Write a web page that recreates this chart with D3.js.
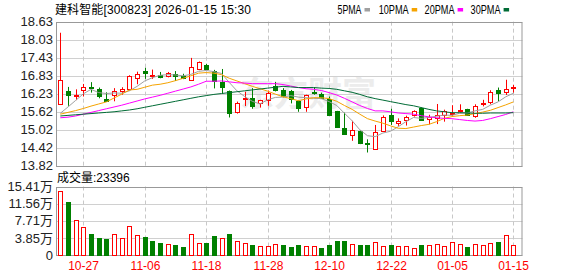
<!DOCTYPE html>
<html>
<head>
<meta charset="utf-8">
<script src="https://cdn.jsdelivr.net/npm/d3@7"></script>
<style>
  body { margin: 0; background: #fff; }
  svg { display: block; font-family: "Liberation Sans", Arial, "Noto Sans CJK SC", sans-serif; }
</style>
</head>
<body>
<svg width="578" height="276"></svg>
<script>
// daily K line data, 10-22 .. 01-15
var dates = ["10-22","10-23","10-24","10-27","10-28","10-29","10-30","10-31","11-03","11-04",
  "11-05","11-06","11-07","11-10","11-11","11-12","11-13","11-14","11-17","11-18",
  "11-19","11-20","11-21","11-24","11-25","11-26","11-27","11-28","12-01","12-02",
  "12-03","12-04","12-05","12-08","12-09","12-10","12-11","12-12","12-15","12-16",
  "12-17","12-18","12-19","12-22","12-23","12-24","12-25","12-26","12-29","12-30",
  "12-31","01-05","01-06","01-07","01-08","01-09","01-12","01-13","01-14","01-15"];

var open = [15.87,16.31,16.16,16.34,16.45,16.38,16.04,16.16,16.31,16.37,
  16.72,16.97,16.83,16.85,16.83,16.89,16.80,16.67,17.04,17.19,
  16.97,16.63,16.32,15.61,16.04,16.08,15.91,16.01,16.47,16.36,
  16.32,15.98,15.78,16.28,16.21,16.06,15.64,15.09,14.84,14.98,
  14.58,14.37,14.99,15.52,15.25,15.33,15.49,15.74,15.37,15.40,
  15.52,15.56,15.67,15.71,15.49,15.88,15.93,16.34,16.26,16.40];
var high = [18.26,16.45,16.37,16.55,16.61,16.43,16.27,16.41,16.44,16.84,
  16.96,17.09,17.03,16.95,16.95,16.98,16.89,17.42,17.30,17.22,
  17.02,17.05,16.33,15.96,16.29,16.41,16.02,16.33,16.62,16.41,
  16.35,16.00,16.19,16.44,16.26,16.13,15.65,15.59,15.32,15.00,
  14.70,15.18,15.50,15.72,15.40,15.49,15.67,15.77,15.52,15.88,
  15.69,15.84,15.87,15.72,15.87,16.02,16.34,16.43,16.69,16.52];
var low = [15.87,15.82,16.01,16.13,16.26,16.07,15.97,15.97,16.19,16.33,
  16.54,16.72,16.72,16.74,16.77,16.65,16.71,16.65,17.01,17.04,
  16.40,16.22,15.43,15.56,15.81,15.72,15.76,15.82,16.30,16.10,
  15.90,15.62,15.62,16.19,16.05,15.49,15.08,14.87,14.65,14.54,
  14.26,14.36,14.99,15.18,15.15,15.16,15.46,15.32,15.20,15.21,
  15.29,15.48,15.60,15.51,15.42,15.80,15.87,15.98,16.18,16.26];
var close = [16.67,16.16,16.18,16.45,16.40,16.13,15.98,16.30,16.39,16.82,
  16.87,16.89,16.85,16.79,16.92,16.81,16.74,17.11,17.28,17.05,
  16.62,16.46,15.57,15.91,16.09,15.82,16.00,16.26,16.32,16.15,
  16.05,15.76,16.17,16.24,16.09,15.54,15.09,14.88,15.00,14.59,
  14.56,14.94,15.45,15.32,15.31,15.43,15.63,15.33,15.45,15.50,
  15.64,15.57,15.68,15.52,15.82,15.91,16.27,16.23,16.37,16.44];

// moving averages as plotted
var ma5 = [15.57,15.78,16.00,16.22,16.37,16.26,16.23,16.25,16.24,16.32,
  16.47,16.65,16.76,16.84,16.86,16.85,16.82,16.87,16.97,17.00,
  16.96,16.90,16.60,16.32,16.13,15.97,15.88,16.02,16.10,16.11,
  16.16,16.11,16.09,16.07,16.06,15.96,15.83,15.57,15.32,15.02,
  14.82,14.79,14.91,14.97,15.12,15.29,15.43,15.40,15.43,15.47,
  15.51,15.50,15.57,15.58,15.65,15.70,15.84,15.95,16.12,16.24];
var ma10 = [15.54,15.60,15.66,15.73,15.81,15.88,15.95,16.08,16.21,16.35,
  16.37,16.44,16.51,16.54,16.59,16.66,16.74,16.82,16.91,16.93,
  16.91,16.86,16.74,16.65,16.56,16.47,16.39,16.31,16.21,16.12,
  16.06,15.99,16.05,16.09,16.09,16.06,15.97,15.83,15.70,15.54,
  15.39,15.31,15.24,15.15,15.07,15.06,15.11,15.16,15.20,15.29,
  15.40,15.46,15.49,15.51,15.56,15.61,15.67,15.76,15.85,15.95];
var ma20 = [15.42,15.44,15.48,15.54,15.60,15.66,15.72,15.78,15.84,15.91,
  15.98,16.05,16.11,16.17,16.24,16.31,16.38,16.45,16.54,16.64,
  16.64,16.65,16.62,16.59,16.58,16.56,16.56,16.56,16.56,16.53,
  16.48,16.43,16.39,16.37,16.33,16.26,16.18,16.07,15.95,15.83,
  15.73,15.65,15.65,15.62,15.58,15.56,15.54,15.49,15.45,15.42,
  15.40,15.39,15.36,15.33,15.31,15.33,15.39,15.46,15.53,15.62];
var ma30 = [15.48,15.50,15.52,15.54,15.56,15.58,15.60,15.62,15.65,15.68,
  15.72,15.77,15.82,15.87,15.92,15.97,16.02,16.07,16.12,16.16,
  16.20,16.23,16.26,16.29,16.32,16.35,16.38,16.41,16.44,16.47,
  16.45,16.43,16.43,16.43,16.41,16.40,16.37,16.32,16.27,16.20,
  16.12,16.06,16.01,15.96,15.91,15.86,15.82,15.76,15.70,15.65,
  15.62,15.59,15.59,15.58,15.57,15.57,15.58,15.58,15.58,15.59];

// volume in 万 shares, and bar colour (1 = red)
var vol = [14.50,12.01,7.86,6.35,4.76,3.85,3.63,4.68,3.78,6.50,
  4.46,4.08,3.20,2.72,2.42,2.27,1.81,4.68,2.72,2.72,
  4.31,3.78,4.76,3.17,2.64,2.27,1.96,1.96,2.42,2.27,
  1.81,2.27,1.96,1.96,1.59,2.27,3.17,3.17,2.49,2.27,
  2.27,2.87,2.04,2.27,2.12,2.04,1.59,2.27,2.27,2.49,
  2.04,2.87,2.49,1.81,2.42,2.27,2.72,2.95,4.53,2.34];
var volUp = [1,0,1,1,0,0,0,1,1,1, 1,0,0,0,1,0,0,1,1,0,
  0,1,0,1,1,0,1,1,1,0, 0,0,1,1,0,0,0,0,1,0,
  0,1,1,0,1,1,1,0,1,1, 1,1,1,0,1,1,1,0,1,1];
var lastVolume = 23396;

var priceTicks = [13.82,14.42,15.02,15.62,16.23,16.83,17.43,18.03,18.63];
var volTicks = [0,3.85,7.71,11.56,15.41];
var volTickLabels = ["0","3.85万","7.71万","11.56万","15.41万"];
var dateTicks = ["10-27","11-06","11-18","11-28","12-10","12-22","01-05","01-15"];

var maNames = ["5PMA","10PMA","20PMA","30PMA"];
var maColors = ["#a0a0a0","#f5a300","#ff00ff","#006b35"];
var maSeries = [ma5, ma10, ma20, ma30];

var red = "#ff0000", green = "#008000";

var svg = d3.select("svg");

var left = 56, right = 522.5;
var top1 = 21.67, bottom1 = 165.67;
var top2 = 186.5, bottom2 = 255;

var x = d3.scalePoint().domain(dates).range([60.3, 513.4]);
var y = d3.scaleLinear().domain([13.82, 18.63]).range([bottom1, top1]);
var yv = d3.scaleLinear().domain([0, 15.41]).range([bottom2, top2]);

function px(d) { return Math.round(x(d)) + 0.5; }

// watermark
svg.append("text")
    .attr("x", 240).attr("y", 106)
    .attr("fill", "#ececec")
    .style("font-family", "'Noto Sans CJK SC'")
    .style("font-size", "34px")
    .style("font-weight", "bold")
    .text("东方财富");

// grids
var grid = svg.append("g");
grid.selectAll(".hp")
    .data(priceTicks)
    .enter().append("line")
      .attr("x1", left).attr("x2", right)
      .attr("y1", function(d) { return Math.round(y(d)) + 0.5; })
      .attr("y2", function(d) { return Math.round(y(d)) + 0.5; })
      .attr("stroke", "#d0d0d0");

grid.selectAll(".hv")
    .data(volTicks)
    .enter().append("line")
      .attr("x1", left).attr("x2", right)
      .attr("y1", function(d) { return Math.round(yv(d)) + 0.5; })
      .attr("y2", function(d) { return Math.round(yv(d)) + 0.5; })
      .attr("stroke", "#d0d0d0");

dateTicks.forEach(function(d) {
  [[top1, bottom1], [top2, bottom2]].forEach(function(r) {
    grid.append("line")
        .attr("x1", px(d)).attr("x2", px(d))
        .attr("y1", r[0]).attr("y2", r[1])
        .attr("stroke", "#c8c8c8")
        .attr("stroke-dasharray", "4,3");
  });
});

// frames
[[top1, bottom1], [top2, bottom2]].forEach(function(r) {
  svg.append("rect")
      .attr("x", left + 0.5).attr("y", Math.round(r[0]) + 0.5)
      .attr("width", right - left - 1)
      .attr("height", Math.round(r[1]) - Math.round(r[0]))
      .attr("fill", "none")
      .attr("stroke", "#999");
});

// candles
var candles = svg.append("g")
  .selectAll("g")
  .data(dates)
  .enter().append("g");

candles.append("line")
    .attr("x1", function(d) { return px(d); })
    .attr("x2", function(d) { return px(d); })
    .attr("y1", function(d, i) { return y(high[i]); })
    .attr("y2", function(d, i) { return y(low[i]); })
    .attr("stroke", function(d, i) { return close[i] >= open[i] ? red : green; });

candles.append("rect")
    .attr("x", function(d) { return px(d) - 2; })
    .attr("width", 4)
    .attr("y", function(d, i) { return Math.round(y(Math.max(open[i], close[i]))) + 0.5; })
    .attr("height", function(d, i) {
      return Math.max(1, Math.round(Math.abs(y(open[i]) - y(close[i]))));
    })
    .attr("fill", function(d, i) { return close[i] >= open[i] ? "#fff" : green; })
    .attr("stroke", function(d, i) { return close[i] >= open[i] ? red : green; });

// moving averages
var line = d3.line()
    .x(function(d, i) { return x(dates[i]); })
    .y(function(d) { return y(d); });

svg.append("g")
  .selectAll("path")
  .data(maSeries)
  .enter().append("path")
    .attr("d", line)
    .attr("fill", "none")
    .attr("stroke", function(d, i) { return maColors[i]; })
    .attr("stroke-width", 1);

// volume bars
svg.append("g")
  .selectAll("rect")
  .data(dates)
  .enter().append("rect")
    .attr("x", function(d) { return px(d) - 2; })
    .attr("width", 4)
    .attr("y", function(d, i) { return Math.round(yv(vol[i])) + 0.5; })
    .attr("height", function(d, i) { return Math.round(bottom2) - Math.round(yv(vol[i])); })
    .attr("fill", function(d, i) { return volUp[i] ? "#fff" : green; })
    .attr("stroke", function(d, i) { return volUp[i] ? red : green; });

// y labels
svg.append("g")
  .selectAll("text")
  .data(priceTicks)
  .enter().append("text")
    .attr("x", 53)
    .attr("y", function(d) { return y(d); })
    .attr("dy", "0.36em")
    .attr("text-anchor", "end")
    .attr("fill", "#222")
    .style("font-size", "13px")
    .text(function(d) { return d.toFixed(2); });

svg.append("g")
  .selectAll("text")
  .data(volTicks)
  .enter().append("text")
    .attr("x", 53)
    .attr("y", function(d) { return yv(d); })
    .attr("dy", "0.36em")
    .attr("text-anchor", "end")
    .attr("fill", "#222")
    .style("font-size", "13px")
    .text(function(d, i) { return volTickLabels[i]; });

// date labels
svg.append("g")
  .selectAll("text")
  .data(dateTicks)
  .enter().append("text")
    .attr("x", function(d) { return px(d); })
    .attr("y", 270)
    .attr("text-anchor", "middle")
    .attr("fill", red)
    .style("font-size", "12px")
    .text(function(d) { return d; });

// title and volume caption
svg.append("text")
    .attr("x", 55).attr("y", 13.5)
    .attr("fill", "#000")
    .attr("textLength", 196)
    .attr("lengthAdjust", "spacing")
    .style("font-size", "12px")
    .text("建科智能[300823] 2026-01-15 15:30");

svg.append("text")
    .attr("x", 57).attr("y", 182)
    .attr("fill", "#000")
    .style("font-size", "12px")
    .text("成交量:" + lastVolume);

// legend
var legX = [337.5, 378.7, 424.6, 470.6];
var legW = [24, 30, 30, 30];
var legend = svg.append("g")
  .selectAll("g")
  .data(maNames)
  .enter().append("g");

legend.append("text")
    .attr("x", function(d, i) { return legX[i]; })
    .attr("y", 13.5)
    .attr("textLength", function(d, i) { return legW[i]; })
    .attr("lengthAdjust", "spacingAndGlyphs")
    .attr("fill", "#000")
    .style("font-size", "12px")
    .text(function(d) { return d; });

legend.append("rect")
    .attr("x", function(d, i) { return legX[i] + legW[i] + 3; })
    .attr("y", 8)
    .attr("width", 5.5)
    .attr("height", 3.5)
    .attr("fill", function(d, i) { return maColors[i]; });
</script>
</body>
</html>
